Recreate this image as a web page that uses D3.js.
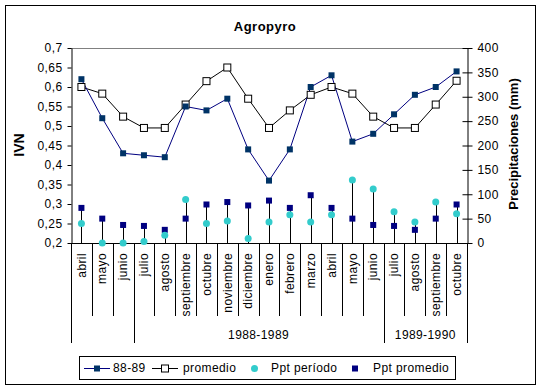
<!DOCTYPE html>
<html>
<head>
<meta charset="utf-8">
<script src="https://cdn.jsdelivr.net/npm/d3@7"></script>
<style>
  body { margin: 0; background: #fff; }
  text { font-family: "Liberation Sans", Arial, sans-serif; fill: #000; }
</style>
</head>
<body>
<div id="chart"></div>
<script>
// data
const months = ["abril","mayo","junio","julio","agosto","septiembre","octubre","noviembre","diciembre",
  "enero","febrero","marzo","abril","mayo","junio","julio","agosto","septiembre","octubre"];
const ivn8889 = [0.62,0.52,0.43,0.425,0.42,0.55,0.54,0.57,0.44,0.36,0.44,0.60,0.63,0.46,0.48,0.53,0.58,0.60,0.64];
const ivnProm = [0.60,0.583,0.524,0.495,0.495,0.555,0.615,0.65,0.57,0.495,0.54,0.58,0.60,0.583,0.524,0.495,0.495,0.555,0.616];
const pptPeriodo = [40,0,0,3,16,89,40,45,9,43,58,43,58,129,111,64,43,84,60];
const pptProm = [72,50,37,35,27,50,79,84,77,87,72,98,72,50,37,35,27,50,79];
const groups = [["",0,3],["1988-1989",3,15],["1989-1990",15,19]];
const leftTicks = [0.2,0.25,0.3,0.35,0.4,0.45,0.5,0.55,0.6,0.65,0.7];
const rightTicks = [0,50,100,150,200,250,300,350,400];

var W = 541, H = 390,
    pL = 71, pR = 467, pT = 48, pB = 243;

var svg = d3.select("#chart").append("svg")
  .attr("width", W).attr("height", H);

// chart frame
svg.append("rect").attr("x", 5.5).attr("y", 5.5).attr("width", 530).attr("height", 379)
  .attr("fill", "#fff").attr("stroke", "#000");

var x = d3.scaleBand().domain(d3.range(months.length)).range([pL, pR]);
var yL = d3.scaleLinear().domain([0.2, 0.7]).range([pB, pT]);
var yR = d3.scaleLinear().domain([0, 400]).range([pB, pT]);
var cx = i => x(i) + x.bandwidth() / 2;

// title
svg.append("text").attr("x", 265).attr("y", 31).attr("text-anchor", "middle")
  .style("font-size", "13px").style("font-weight", "bold").style("letter-spacing", "0.5px")
  .text("Agropyro");

// top border of plot
svg.append("line").attr("x1", pL).attr("x2", pR).attr("y1", pT + 0.5).attr("y2", pT + 0.5)
  .attr("stroke", "#808080");

// left axis
var fmt = d => d3.format(".2~f")(d).replace(".", ",");
var gL = svg.append("g").attr("transform", "translate(" + (pL + 0.5) + ",0)")
  .call(d3.axisLeft(yL).tickValues(leftTicks).tickFormat(fmt).tickSizeInner(4).tickSizeOuter(0).tickPadding(5));
gL.select(".domain").attr("stroke", "#000");
gL.selectAll("text").style("font-size", "12px").style("letter-spacing", "0.4px").attr("fill", "#000");

// right axis with crossing ticks
var gR = svg.append("g").attr("transform", "translate(" + (pR + 0.5) + ",0)")
  .call(d3.axisRight(yR).tickValues(rightTicks).tickSizeInner(5).tickSizeOuter(0).tickPadding(5));
gR.selectAll(".tick line").attr("x1", -5);
gR.selectAll("text").style("font-size", "12px").style("letter-spacing", "0.4px").attr("fill", "#000");

// axis titles
svg.append("text").attr("transform", "translate(24,145) rotate(-90)").attr("text-anchor", "middle")
  .style("font-size", "14px").style("font-weight", "bold").text("IVN");
svg.append("text").attr("transform", "translate(518,144) rotate(-90)").attr("text-anchor", "middle")
  .style("font-size", "13px").style("font-weight", "bold").text("Precipitaciones (mm)");

// category axis
svg.append("line").attr("x1", pL).attr("x2", pR + 1).attr("y1", pB + 0.5).attr("y2", pB + 0.5)
  .attr("stroke", "#000");
var bounds = d3.range(months.length + 1);
var groupEdges = [0].concat(groups.map(g => g[2]));
svg.selectAll(".cat-tick").data(bounds).enter().append("line")
  .attr("x1", i => Math.round(pL + i * x.step()) + 0.5)
  .attr("x2", i => Math.round(pL + i * x.step()) + 0.5)
  .attr("y1", pB)
  .attr("y2", i => groupEdges.includes(i) ? 343 : 316)
  .attr("stroke", "#000");
svg.selectAll(".month").data(months).enter().append("text")
  .attr("transform", (d, i) => "translate(" + cx(i) + ",253) rotate(-90)")
  .attr("text-anchor", "end").attr("dy", "0.35em")
  .style("font-size", "12px").style("letter-spacing", "0.4px")
  .text(d => d);
svg.selectAll(".group").data(groups).enter().append("text")
  .attr("x", g => (x(g[1]) + x(g[2] - 1) + x.bandwidth()) / 2)
  .attr("y", 339).attr("text-anchor", "middle")
  .style("font-size", "12px").style("letter-spacing", "0.4px")
  .text(g => g[0]);

// drop lines for precipitation
svg.selectAll(".drop").data(months).enter().append("line")
  .attr("x1", (d, i) => Math.round(cx(i)) + 0.5).attr("x2", (d, i) => Math.round(cx(i)) + 0.5)
  .attr("y1", pB)
  .attr("y2", (d, i) => yR(Math.max(pptPeriodo[i], pptProm[i])))
  .attr("stroke", "#000");

svg.selectAll(".pprom").data(pptProm).enter().append("rect")
  .attr("x", (d, i) => cx(i) - 3).attr("y", d => yR(d) - 3)
  .attr("width", 6).attr("height", 6).attr("fill", "#000080");
svg.selectAll(".pper").data(pptPeriodo).enter().append("circle")
  .attr("cx", (d, i) => cx(i)).attr("cy", d => yR(d)).attr("r", 3.5)
  .attr("fill", "#33CCCC");

// IVN lines
var line = d3.line().x((d, i) => cx(i)).y(d => yL(d));
svg.append("path").datum(ivnProm).attr("d", line).attr("fill", "none").attr("stroke", "#000");
svg.append("path").datum(ivn8889).attr("d", line).attr("fill", "none").attr("stroke", "#000080");
svg.selectAll(".mprom").data(ivnProm).enter().append("rect")
  .attr("x", (d, i) => cx(i) - 3.5).attr("y", d => yL(d) - 3.5)
  .attr("width", 7).attr("height", 7).attr("fill", "#fff").attr("stroke", "#000");
svg.selectAll(".m8889").data(ivn8889).enter().append("rect")
  .attr("x", (d, i) => cx(i) - 3).attr("y", d => yL(d) - 3)
  .attr("width", 6).attr("height", 6).attr("fill", "#003366");

// legend
var lg = svg.append("g");
lg.append("rect").attr("x", 79.5).attr("y", 356.5).attr("width", 376).attr("height", 23)
  .attr("fill", "#fff").attr("stroke", "#000");
var ly = 368;
lg.append("line").attr("x1", 84).attr("x2", 110).attr("y1", ly + 0.5).attr("y2", ly + 0.5).attr("stroke", "#000080");
lg.append("rect").attr("x", 94).attr("y", ly - 2.5).attr("width", 6).attr("height", 6).attr("fill", "#003366");
lg.append("text").attr("x", 113).attr("y", ly).attr("dy", "0.35em").style("font-size", "12px").style("letter-spacing", "0.4px").text("88-89");
lg.append("line").attr("x1", 152).attr("x2", 178).attr("y1", ly + 0.5).attr("y2", ly + 0.5).attr("stroke", "#000");
lg.append("rect").attr("x", 161.5).attr("y", ly - 3).attr("width", 7).attr("height", 7).attr("fill", "#fff").attr("stroke", "#000");
lg.append("text").attr("x", 183).attr("y", ly).attr("dy", "0.35em").style("font-size", "12px").style("letter-spacing", "0.4px").text("promedio");
lg.append("circle").attr("cx", 254.5).attr("cy", ly + 0.5).attr("r", 3.5).attr("fill", "#33CCCC");
lg.append("text").attr("x", 271).attr("y", ly).attr("dy", "0.35em").style("font-size", "12px").style("letter-spacing", "0.4px").text("Ppt período");
lg.append("rect").attr("x", 352).attr("y", ly - 2.5).attr("width", 6).attr("height", 6).attr("fill", "#000080");
lg.append("text").attr("x", 373).attr("y", ly).attr("dy", "0.35em").style("font-size", "12px").style("letter-spacing", "0.4px").text("Ppt promedio");
</script>
</body>
</html>
